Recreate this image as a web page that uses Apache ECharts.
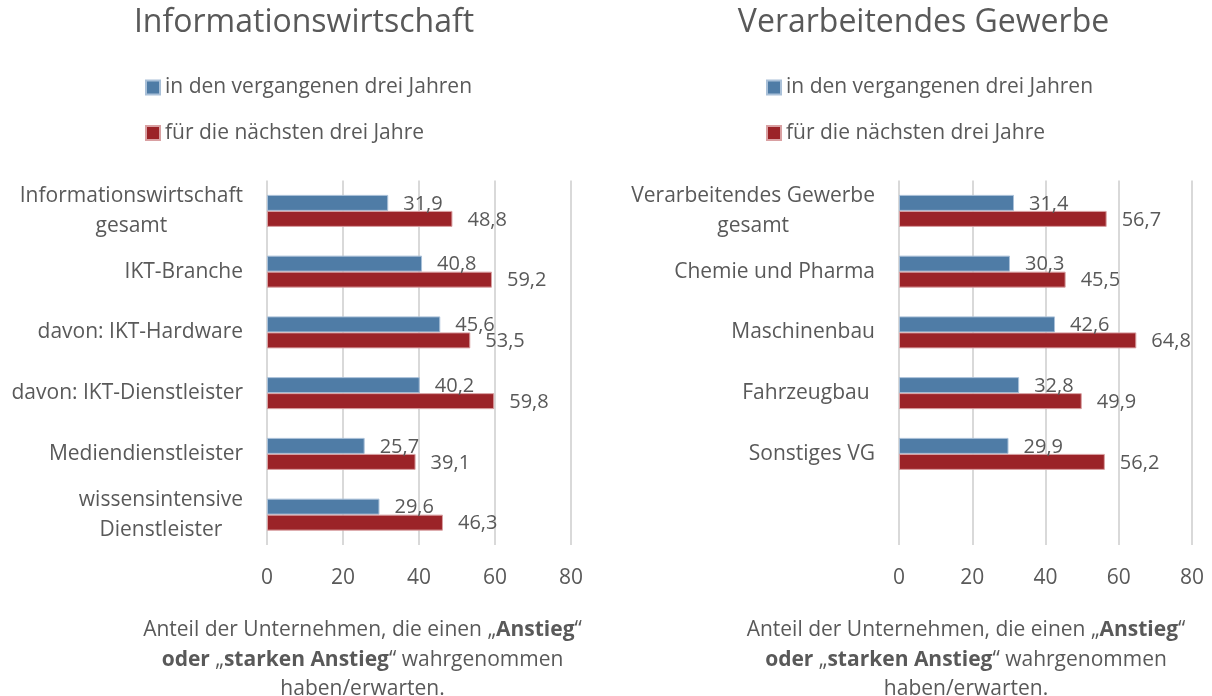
<!DOCTYPE html>
<html>
<head>
<meta charset="utf-8">
<script src="https://cdn.jsdelivr.net/npm/echarts@6/dist/echarts.min.js"></script>
<style>
  html, body { margin: 0; background: #fff; }
  #main { width: 1212px; height: 696px; }
</style>
</head>
<body>
<div id="main"></div>
<script>
// Daten
const seriesNames = ["in den vergangenen drei Jahren", "für die nächsten drei Jahre"];

const infoCategories = [
  "Informationswirtschaft\ngesamt",
  "IKT-Branche",
  "davon: IKT-Hardware",
  "davon: IKT-Dienstleister",
  "Mediendienstleister",
  "wissensintensive\nDienstleister",
];
const infoPast = [31.9, 40.8, 45.6, 40.2, 25.7, 29.6];
const infoNext = [48.8, 59.2, 53.5, 59.8, 39.1, 46.3];

const vgCategories = [
  "Verarbeitendes Gewerbe\ngesamt",
  "Chemie und Pharma",
  "Maschinenbau",
  "Fahrzeugbau ",
  "Sonstiges VG",
];
const vgPast = [31.4, 30.3, 42.6, 32.8, 29.9];
const vgNext = [56.7, 45.5, 64.8, 49.9, 56.2];

const chartTitles = ["Informationswirtschaft", "Verarbeitendes Gewerbe"];

const FONT = '"Open Sans", "Noto Sans", sans-serif';
const TEXT = "#595959";
const BLUE = "#4f7ca6";
const RED = "#9b2328";

const myChart = echarts.init(document.getElementById("main"));

// Zahl mit Komma
function fmt(v) {
  return v.toFixed(1).replace(".", ",");
}

// mehrzeilige Kategorien zentriert
function catLabel(v) {
  if (!v) return "";
  return v
    .split("\n")
    .map(function (l) {
      return "{c|" + l + "}";
    })
    .join("\n");
}

function xAxisFor(idx) {
  return {
    type: "value",
    gridIndex: idx,
    min: 0,
    max: 80,
    interval: 20,
    axisLine: { show: false },
    axisTick: { show: false },
    axisLabel: { color: TEXT, fontFamily: FONT, fontSize: 21, margin: 23 },
    splitLine: { lineStyle: { color: "#d9d9d9", width: 2 } },
  };
}

function yAxisFor(idx, cats, extra) {
  return Object.assign(
    {
      type: "category",
      gridIndex: idx,
      data: cats,
      inverse: true,
      axisLine: { show: false },
      axisTick: { show: false },
      splitLine: { show: false },
      axisLabel: {
        margin: 24,
        formatter: catLabel,
        rich: {
          c: {
            color: TEXT,
            fontFamily: FONT,
            fontSize: 21,
            lineHeight: 30,
            align: "center",
          },
        },
      },
    },
    extra || {}
  );
}

function barSeries(name, data, idx, color, border) {
  return {
    type: "bar",
    name: name,
    data: data,
    xAxisIndex: idx,
    yAxisIndex: idx,
    barWidth: 16,
    barGap: "0%",
    itemStyle: { color: color, borderColor: border, borderWidth: 1 },
    label: {
      show: true,
      position: "right",
      distance: 15,
      offset: [0, 1],
      color: TEXT,
      fontFamily: FONT,
      fontSize: 20,
      formatter: function (p) {
        return fmt(p.value);
      },
    },
  };
}

function legendFor(left) {
  return {
    orient: "vertical",
    left: left,
    top: 75.5,
    padding: 0,
    itemWidth: 14,
    itemHeight: 14,
    itemGap: 21.5,
    icon: "rect",
    selectedMode: false,
    data: seriesNames,
    textStyle: { color: TEXT, fontFamily: FONT, fontSize: 21, lineHeight: 24 },
  };
}

function noteFor(x) {
  return {
    type: "text",
    x: x,
    y: 660,
    style: {
      text:
        "Anteil der Unternehmen, die einen „{b|Anstieg}“\n{b|oder} „{b|starken Anstieg}“ wahrgenommen\nhaben/erwarten.",
      font: "21px " + FONT,
      fill: TEXT,
      align: "center",
      verticalAlign: "middle",
      lineHeight: 29.5,
      rich: {
        b: { fontWeight: "bold", fontFamily: FONT, fontSize: 21, fill: TEXT, color: TEXT, lineHeight: 29.5 },
      },
    },
  };
}

function titleFor(x, text) {
  return {
    type: "text",
    x: x,
    y: 23,
    style: {
      text: text,
      font: "32px " + FONT,
      fill: TEXT,
      align: "center",
      verticalAlign: "middle",
    },
  };
}

const option = {
  backgroundColor: "#ffffff",
  animation: false,
  grid: [
    { left: 267, right: 641, top: 180.5, height: 364.5 },
    { left: 899, right: 20, top: 180.5, height: 364.5 },
  ],
  xAxis: [xAxisFor(0), xAxisFor(1)],
  yAxis: [
    yAxisFor(0, infoCategories),
    // rechts: 6 Plätze wie links, letzter bleibt leer
    yAxisFor(1, vgCategories, { max: 5 }),
  ],
  legend: [legendFor(145), legendFor(766)],
  series: [
    barSeries(seriesNames[0], infoPast, 0, BLUE, "#a9c0d8"),
    barSeries(seriesNames[1], infoNext, 0, RED, "#d9a0a2"),
    barSeries(seriesNames[0], vgPast, 1, BLUE, "#a9c0d8"),
    barSeries(seriesNames[1], vgNext, 1, RED, "#d9a0a2"),
  ],
  graphic: [
    titleFor(304, chartTitles[0]),
    titleFor(923.5, chartTitles[1]),
    noteFor(362.5),
    noteFor(966),
  ],
};

myChart.setOption(option);
</script>
</body>
</html>
